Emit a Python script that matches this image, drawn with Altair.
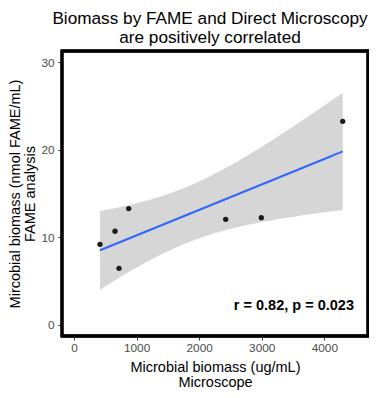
import altair as alt
import numpy as np
import pandas as pd

# Data
microscope = [415, 655, 719, 874, 2424, 2993, 4294]          # ug/mL
fame = [9.19, 10.68, 6.44, 13.27, 12.05, 12.24, 23.26]        # nmol FAME/mL
annotation_text = ["r = 0.82, p = 0.023"]
annotation_x = [4474]
annotation_y = [2.1]
x_ticks = [0, 1000, 2000, 3000, 4000]
y_ticks = [0, 10, 20, 30]

pts = pd.DataFrame({"x": microscope, "y": fame})

# linear model fit with 95% confidence band (as geom_smooth(method="lm"))
xa = np.array(microscope, dtype=float)
ya = np.array(fame, dtype=float)
n = len(xa)
xbar, ybar = xa.mean(), ya.mean()
sxx = ((xa - xbar) ** 2).sum()
b = ((xa - xbar) * (ya - ybar)).sum() / sxx
a = ybar - b * xbar
resid = ya - (a + b * xa)
s = np.sqrt((resid ** 2).sum() / (n - 2))
tcrit = 2.570582  # t(0.975, df=5)
xg = np.linspace(xa.min(), xa.max(), 80)
fit = a + b * xg
se = s * np.sqrt(1.0 / n + (xg - xbar) ** 2 / sxx)
band = pd.DataFrame({"x": xg, "fit": fit, "lo": fit - tcrit * se, "hi": fit + tcrit * se})

ann = pd.DataFrame({"x": annotation_x, "y": annotation_y, "t": annotation_text})

FONT = "Liberation Sans"
W, H = 306, 285
xscale = alt.Scale(domain=[-192, 4698], nice=False, zero=False)
yscale = alt.Scale(domain=[-1.3, 31.3], nice=False, zero=False)

xaxis = alt.Axis(
    values=x_ticks, format="d", title=["Microbial biomass (ug/mL)", "Microscope"],
    grid=False, domain=False, tickSize=4, tickColor="#333333", tickWidth=1,
    labelColor="#4D4D4D", labelFontSize=11.8, labelFont=FONT, labelPadding=2,
    titleFont=FONT, titleFontSize=14.5, titleFontWeight="normal", titleColor="black",
    titleLineHeight=15, titlePadding=7,
)
yaxis = alt.Axis(
    values=y_ticks, format="d", title=["Mircobial biomass (nmol FAME/mL)", "FAME analysis"],
    grid=False, domain=False, tickSize=4, tickColor="#333333", tickWidth=1,
    labelColor="#4D4D4D", labelFontSize=11.8, labelFont=FONT, labelPadding=4,
    titleFont=FONT, titleFontSize=14.5, titleFontWeight="normal", titleColor="black",
    titleLineHeight=15, titlePadding=3,
)

ribbon = alt.Chart(band).mark_area(color="#999999", opacity=0.4).encode(
    x=alt.X("x:Q", scale=xscale, axis=xaxis),
    y=alt.Y("lo:Q", scale=yscale, axis=yaxis),
    y2="hi:Q",
)
line = alt.Chart(band).mark_line(color="#3366FF", strokeWidth=2.1).encode(
    x=alt.X("x:Q", scale=xscale), y=alt.Y("fit:Q", scale=yscale)
)
points = alt.Chart(pts).mark_circle(color="#1a1a1a", opacity=1, size=28).encode(
    x=alt.X("x:Q", scale=xscale), y=alt.Y("y:Q", scale=yscale)
)
text = alt.Chart(ann).mark_text(
    font=FONT, fontSize=14.5, fontWeight="bold", color="black",
    align="right", baseline="middle",
).encode(x=alt.X("x:Q", scale=xscale), y=alt.Y("y:Q", scale=yscale), text="t:N")

# panel border (theme_bw-like black frame)
border = alt.Chart(pts).mark_rect(
    filled=False, stroke="black", strokeWidth=2.4, fill=None
).encode(x=alt.value(0), x2=alt.value(W), y=alt.value(0), y2=alt.value(H))

chart = alt.layer(ribbon, line, points, text, border).properties(
    width=W, height=H,
    background="white",
    title=alt.Title(
        ["Biomass by FAME and Direct Microscopy", "are positively correlated"],
        font=FONT, fontSize=17.2, fontWeight="normal", color="black",
        anchor="middle", lineHeight=19, offset=4, dx=-5,
    ),
    autosize=alt.AutoSizeParams(type="none"),
    padding={"left": 54, "top": 43, "right": 1, "bottom": 54},
).configure_view(stroke=None)

chart.save("out.html", embed_options={"renderer": "svg", "actions": False})
